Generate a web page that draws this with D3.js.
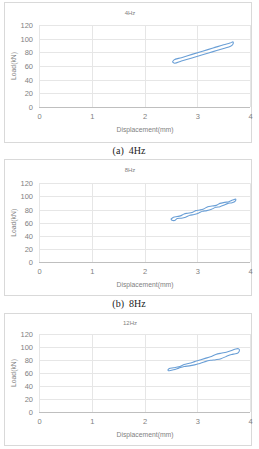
<!DOCTYPE html>
<html><head><meta charset="utf-8">
<script src="https://cdn.jsdelivr.net/npm/d3@7"></script>
<style>body{margin:0;background:#fff;}svg{display:block;}</style>
</head><body>
<svg id="c" width="259" height="449"></svg>
<script>
const xTicks = [0, 1, 2, 3, 4];
const yTicks = [0, 20, 40, 60, 80, 100, 120];
const titles = ["4Hz", "8Hz", "12Hz"];
const captions = ["(a)  4Hz", "(b)  8Hz", ""];
const xLabel = "Displacement(mm)";
const yLabel = "Load(kN)";

const loop4 = [[2.53,66],[2.56,69],[2.7,72.2],[2.9,77],[3.1,81.7],[3.3,86.3],[3.5,91],[3.62,93.6],[3.68,95.3],[3.67,91],[3.63,88.8],[3.5,85.6],[3.3,81],[3.1,76.5],[2.9,71.8],[2.7,67.2],[2.57,64],[2.53,66]];
const loop8 = [[2.5,65.5],[2.55,68.5],[2.62,69.5],[2.68,70.5],[2.75,73.5],[2.82,74.5],[2.9,75.5],[2.97,78.5],[3.05,79.5],[3.12,81],[3.2,84.5],[3.28,85.5],[3.36,86.5],[3.43,89.5],[3.52,91],[3.6,92],[3.67,94.5],[3.73,96],[3.72,93],[3.66,90.5],[3.58,89.5],[3.5,86.5],[3.43,84.5],[3.35,83.5],[3.27,80.5],[3.18,78.5],[3.1,77.5],[3.02,74.5],[2.94,72.5],[2.86,71.5],[2.78,68.5],[2.7,67],[2.62,66.5],[2.57,63.5],[2.52,64],[2.5,65.5]];
const loop12 = [[2.44,64],[2.47,66.8],[2.55,68],[2.65,69.5],[2.75,73],[2.85,75],[2.95,77.5],[3.05,80],[3.15,82.5],[3.25,85],[3.35,88.5],[3.45,90.5],[3.55,92],[3.65,94.5],[3.73,97],[3.78,97.3],[3.8,95.5],[3.78,91.5],[3.72,89.5],[3.65,88.5],[3.55,85.5],[3.45,82],[3.35,80.5],[3.25,79.5],[3.15,77.5],[3.05,74.5],[2.95,72.5],[2.85,71],[2.75,70],[2.65,67.5],[2.55,65],[2.47,63.5],[2.44,64]];
const loops = [loop4, loop8, loop12];

const panels = [
  {box:[4,2,247,140], top:25, bottom:107, title:13, xt:118, xl:130, cap:152},
  {box:[4,159,247,136], top:183.3, bottom:262.3, title:170, xt:273, xl:285, cap:305},
  {box:[4,313,247,132], top:334, bottom:412, title:323, xt:423, xl:435, cap:null}
];

const svg = d3.select("#c");
const txtCol = "#7f7f7f";

panels.forEach((p, i) => {
  const g = svg.append("g");
  g.append("rect").attr("x", p.box[0]+0.5).attr("y", p.box[1]+0.5)
    .attr("width", p.box[2]).attr("height", p.box[3])
    .attr("fill", "#fff").attr("stroke", "#d9d9d9").attr("stroke-width", 1);

  const x = d3.scaleLinear().domain([0, 4]).range([39, 250]);
  const y = d3.scaleLinear().domain([0, 120]).range([p.bottom, p.top]);

  g.append("g").selectAll("line").data(yTicks.filter(d => d > 0)).join("line")
    .attr("x1", x(0)).attr("x2", x(4))
    .attr("y1", d => Math.round(y(d)) + 0.5).attr("y2", d => Math.round(y(d)) + 0.5)
    .attr("stroke", "#e6e6e6");
  g.append("g").selectAll("line").data(xTicks).join("line")
    .attr("y1", y(120)).attr("y2", y(0))
    .attr("x1", d => Math.round(x(d)) + 0.5).attr("x2", d => Math.round(x(d)) + 0.5)
    .attr("stroke", "#e6e6e6");
  g.append("line").attr("x1", x(0)).attr("x2", x(4))
    .attr("y1", Math.round(y(0)) + 0.5).attr("y2", Math.round(y(0)) + 0.5)
    .attr("stroke", "#bfbfbf");

  const ya = d3.axisLeft(y).tickValues(yTicks).tickSize(0).tickPadding(6);
  const yg = g.append("g").attr("transform", `translate(${x(0)},0)`).call(ya);
  yg.select(".domain").remove();
  yg.selectAll("text").attr("fill", txtCol).style("font-family", "'Liberation Sans', sans-serif").style("font-size", "7.5px");

  const xa = d3.axisBottom(x).tickValues(xTicks).tickSize(0).tickPadding(0).tickFormat(d3.format("d"));
  const xg = g.append("g").attr("transform", `translate(0,${p.xt - 4})`).call(xa);
  xg.select(".domain").remove();
  xg.selectAll("text").attr("dy", "0.6em").attr("fill", txtCol).style("font-family", "'Liberation Sans', sans-serif").style("font-size", "7.5px");

  g.append("text").attr("x", 130).attr("y", p.title).attr("text-anchor", "middle")
    .attr("dominant-baseline", "middle").attr("fill", txtCol)
    .style("font-family", "'Liberation Sans', sans-serif").style("font-size", "6px").text(titles[i]);
  g.append("text").attr("x", 145).attr("y", p.xl).attr("text-anchor", "middle")
    .attr("dominant-baseline", "middle").attr("fill", txtCol)
    .style("font-family", "'Liberation Sans', sans-serif").style("font-size", "6.8px").text(xLabel);
  g.append("text").attr("transform", `translate(14,${(p.top + p.bottom)/2}) rotate(-90)`)
    .attr("text-anchor", "middle").attr("dominant-baseline", "middle").attr("fill", txtCol)
    .style("font-family", "'Liberation Sans', sans-serif").style("font-size", "6.8px").text(yLabel);

  const line = d3.line().x(d => x(d[0])).y(d => y(d[1])).curve(d3.curveCatmullRom.alpha(0.5));
  g.append("path").datum(loops[i]).attr("d", line).attr("fill", "none")
    .attr("stroke", "#6a9fd6").attr("stroke-width", 1.1);

  if (p.cap !== null && captions[i]) {
    svg.append("text").attr("x", 129).attr("y", p.cap).attr("text-anchor", "middle")
      .attr("dominant-baseline", "middle").attr("fill", "#222")
      .style("font-family", "'Liberation Serif', serif").style("font-size", "10px")
      .style("font-weight", "normal").style("white-space", "pre").text(captions[i]);
  }
});
</script>
</body></html>
